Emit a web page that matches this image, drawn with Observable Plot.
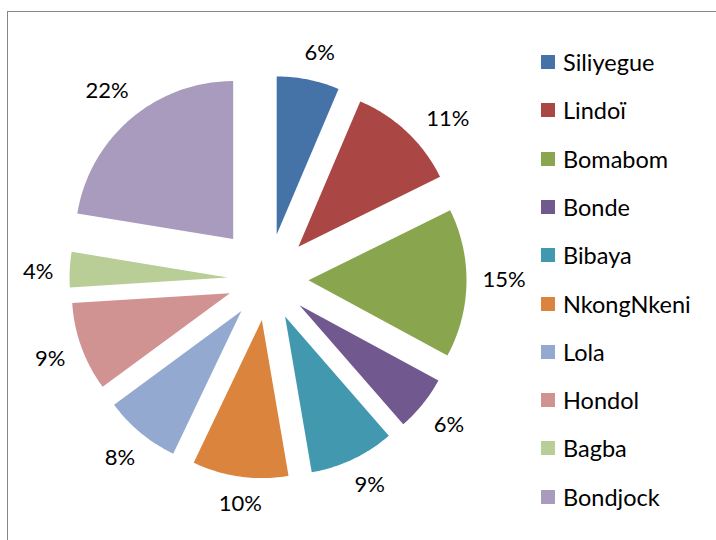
<!DOCTYPE html>
<html><head><meta charset="utf-8">
<script src="https://cdn.jsdelivr.net/npm/d3@7"></script>
<script src="https://cdn.jsdelivr.net/npm/@observablehq/plot@0.6"></script>
<style>
body{margin:0;background:#fff;}
#wrap{position:relative;width:716px;height:540px;overflow:hidden;font-family:Lato,"Open Sans",sans-serif;}
#frame{position:absolute;left:7px;top:11px;width:780px;height:620px;border-left:1.5px solid #868686;border-top:1.5px solid #868686;}
#chart{position:absolute;left:0;top:0;}
#legend{position:absolute;left:541px;top:0;}
.item{position:absolute;left:0;display:flex;align-items:center;white-space:nowrap;font-size:23.5px;line-height:26px;height:26px;color:#000;}
.sw{width:14px;height:14px;margin-right:8px;flex:none;}
</style></head><body>
<div id="wrap"><div id="frame"></div><div id="chart"></div><div id="legend"></div></div>
<script>
// ---- data (shares in %; labels show them rounded) ----
const categories = ["Siliyegue","Lindoï","Bomabom","Bonde","Bibaya","NkongNkeni","Lola","Hondol","Bagba","Bondjock"];
const shares = [6.4, 11.3, 15.2, 5.7, 8.7, 9.8, 7.8, 9.1, 3.6, 22.4];
const colors = ["#4572A7","#AA4643","#89A54E","#71588F","#4198AF","#DB843D","#93A9CF","#D19392","#B9CD96","#A99BBD"];

// ---- layout / style ----
const W = 716, H = 540;
const cx = 267, cy = 279, Rpx = 158;                        // pie centre and radius (px)
const explodePx = [46, 45, 41, 41, 41, 41, 41, 40, 40, 53];  // explosion of each slice (px)
const labelTurnDeg = [1.5, 5, -1, 0, -1, -1, 0, 0, -1, 0];   // label placement nudge (deg)
const labelFont = 22, labelGap = 16;
const fontFamily = "Lato, 'Open Sans', sans-serif";

const total = d3.sum(shares);
let cum = 0;
const slices = categories.map((name, i) => {
  const a0 = 2 * Math.PI * cum / total;
  cum += shares[i];
  const a1 = 2 * Math.PI * cum / total;
  return {name, value: shares[i], a0, a1, mid: (a0 + a1) / 2, e: explodePx[i] / Rpx, turn: labelTurnDeg[i] * Math.PI / 180};
});

// polygon points for each slice (angles clockwise from the top)
const pts = [];
for (const s of slices) {
  const ox = s.e * Math.sin(s.mid), oy = s.e * Math.cos(s.mid);
  pts.push({name: s.name, x: ox, y: oy});
  const n = Math.max(8, Math.ceil((s.a1 - s.a0) / (Math.PI / 180)));
  for (let k = 0; k <= n; k++) {
    const a = s.a0 + (s.a1 - s.a0) * k / n;
    pts.push({name: s.name, x: ox + Math.sin(a), y: oy + Math.cos(a)});
  }
}

// labels outside the end of each slice
const labelData = slices.map(s => {
  const text = Math.round(s.value) + "%";
  const nd = text.length - 1;
  const w = labelFont * (0.58 * nd + 0.8), h = 18;
  const a = s.mid + s.turn;
  const ux = Math.sin(a), uy = Math.cos(a);
  const half = Math.abs(ux) * w / 2 + Math.abs(uy) * h / 2;
  const dist = 1 + s.e + (labelGap + half) / Rpx;
  return {name: s.name, text, x: dist * ux, y: dist * uy};
});

const chart = Plot.plot({
  width: W, height: H,
  margin: 0,
  x: {domain: [-cx / Rpx, (W - cx) / Rpx], axis: null},
  y: {domain: [-(H - cy) / Rpx, cy / Rpx], axis: null},
  color: {domain: categories, range: colors},
  style: {background: "transparent", fontFamily},
  marks: [
    Plot.line(pts, {x: "x", y: "y", z: "name", fill: "name", stroke: "none", curve: "linear"}),
    Plot.text(labelData, {x: "x", y: "y", text: "text", fontSize: labelFont, fontFamily, fill: "#000", textAnchor: "middle", lineAnchor: "middle"})
  ]
});
document.getElementById("chart").appendChild(chart);

// legend
const leg = document.getElementById("legend");
const legTop = 62, legStep = 48.3;
categories.forEach((c, i) => {
  const it = document.createElement("div");
  it.className = "item";
  it.style.top = (legTop + i * legStep - 13) + "px";
  const sw = document.createElement("span");
  sw.className = "sw";
  sw.style.background = colors[i];
  const tx = document.createElement("span");
  tx.textContent = c;
  it.appendChild(sw); it.appendChild(tx);
  leg.appendChild(it);
});
</script>
</body></html>
